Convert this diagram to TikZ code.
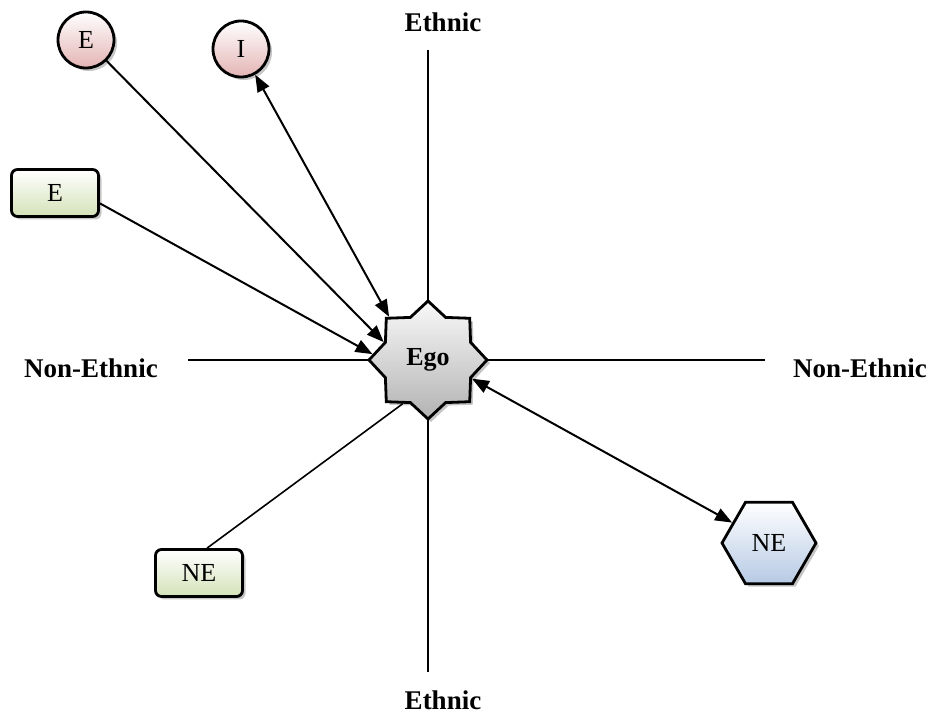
\documentclass[tikz,border=0pt]{standalone}
\usepackage{fontspec}
\setmainfont{Liberation Serif}
\usetikzlibrary{arrows.meta,shapes.geometric,shadows}
\definecolor{pinkbot}{RGB}{228,180,180}
\definecolor{greenbot}{RGB}{212,226,184}
\definecolor{bluebot}{RGB}{182,202,228}
\tikzset{
	every node/.style={font=\fontsize{13}{15}\selectfont},
	axislabel/.style={font=\fontsize{13.5}{16}\selectfont\bfseries},
	nodeshadow/.style={drop shadow={shadow xshift=1.5pt,shadow yshift=-1.5pt,fill=black!50,opacity=0.45}},
	circlenode/.style={circle,draw,line width=1.4pt,minimum size=28pt,inner sep=0pt,top color=white,bottom color=pinkbot,nodeshadow},
	roundednode/.style={rectangle,rounded corners=3pt,draw,line width=1.4pt,minimum width=43.5pt,minimum height=23.5pt,top color=white,bottom color=greenbot,nodeshadow},
	hexnode/.style={regular polygon,regular polygon sides=6,draw,line width=1.4pt,minimum size=47pt,inner sep=0pt,top color=white,bottom color=bluebot,nodeshadow},
	starnode/.style={star,star points=8,star point ratio=1.28,draw,line width=1.4pt,minimum size=59pt,inner sep=0pt,top color=gray!5,bottom color=gray!60,nodeshadow,font=\fontsize{13}{15}\selectfont\bfseries}
}
\begin{document}
\begin{tikzpicture}[x=0.5pt,y=-0.5pt,>={Triangle[length=8.5pt,width=6.5pt]}]
	\useasboundingbox (0,0) rectangle (928,715);

	% Axes
	\coordinate (top) at (428,50);
	\coordinate (bottom) at (428,672);
	\coordinate (left) at (188,360);
	\coordinate (right) at (765,360);
	\draw[line width=0.8pt] (top) -- (bottom);
	\draw[line width=0.8pt] (left) -- (right);

	\node[axislabel] (t) at (443,22) {Ethnic};
	\node[axislabel] (b) at (443,700) {Ethnic};
	\node[axislabel] (l) at (91,368) {Non-Ethnic};
	\node[axislabel] (r) at (860,368) {Non-Ethnic};

	% Nodes
	\node[starnode] (0) at (428,360) {Ego};
	\node[circlenode] (1) at (86,40) {E};
	\node[circlenode] (2) at (241,49) {I};
	\node[roundednode] (3) at (55,193) {E};
	\node[roundednode] (4) at (199,573) {NE};
	\node[hexnode] (5) at (769,543) {NE};

	% Connectors
	\draw[->,line width=1pt] (1) -- (0.158);
	\draw[<->,line width=1pt] (2) -- (0.132);
	\draw[->,line width=1pt] (3.-13) -- (0.174);
	\draw[line width=0.8pt] (4.72) -- (0.240);
	\draw[<->,line width=1pt] (0.337) -- (5);
\end{tikzpicture}
\end{document}
